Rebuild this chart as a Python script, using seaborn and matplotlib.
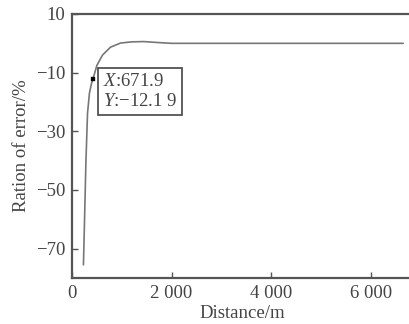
import matplotlib
matplotlib.use("Agg")
import matplotlib.pyplot as plt
import seaborn as sns
import pandas as pd

# data
distance = [230, 245, 261, 280, 312, 350, 390, 420, 500, 613, 774, 975, 1200, 1440, 1700, 2000, 6650]
ratio = [-75.5, -65, -53.6, -40, -23.8, -17, -13.8, -12.19, -7.5, -4.0, -1.3, 0.1, 0.5, 0.6, 0.3, 0.0, 0.0]
marker_x = [420]
marker_y = [-12.19]
xticks = [0, 2000, 4000, 6000]
xtick_labels = ["0", "2 000", "4 000", "6 000"]
yticks = [10, -10, -30, -50, -70]
ytick_labels = ["10", "\u221210", "\u221230", "\u221250", "\u221270"]
annot_text = "$\\mathit{X}$:671.9\n$\\mathit{Y}$:\u221212.1 9"

sns.set_style("ticks")
plt.rcParams["font.family"] = ["Liberation Serif", "DejaVu Serif"]
plt.rcParams["mathtext.fontset"] = "custom"
plt.rcParams["mathtext.it"] = "Liberation Serif:italic"
plt.rcParams["mathtext.rm"] = "Liberation Serif"

df = pd.DataFrame({"Distance": distance, "Ratio": ratio})

fig = plt.figure(figsize=(4.09, 3.24), dpi=100)
ax = fig.add_axes([72 / 409, 46 / 324, 1 - 72 / 409 + 0.01, (278 - 14) / 324])

spine_c = "#555555"
text_c = "#444444"
sns.lineplot(data=df, x="Distance", y="Ratio", ax=ax, color="#777777", lw=1.2,
             sort=False, estimator=None)
sns.scatterplot(x=marker_x, y=marker_y, ax=ax, marker="s", s=10, color="black",
                edgecolor="black", zorder=5)

ax.set_xlim(60, 6850)
ax.set_ylim(-80, 10)
ax.set_xticks(xticks)
ax.set_xticklabels(xtick_labels)
ax.set_yticks(yticks)
ax.set_yticklabels(ytick_labels)
ax.tick_params(direction="in", length=4, width=1, colors=spine_c, labelcolor=text_c,
               labelsize=13.5, pad=5)
ax.set_xlabel("Distance/m", fontsize=13.5, color=text_c, labelpad=2)
ax.set_ylabel("Ration of error/%", fontsize=13.5, color=text_c, labelpad=4)

for s in ["left", "bottom", "top"]:
    ax.spines[s].set_color(spine_c)
    ax.spines[s].set_linewidth(1.6)
ax.spines["right"].set_visible(False)

fig.text(140 / 409, 1 - 91.5 / 324, annot_text, ha="center", va="center",
         multialignment="left",
         fontsize=13.5, color=text_c, linespacing=1.25,
         bbox=dict(boxstyle="square,pad=0.25", fc="white", ec="#444444", lw=1.2),
         transform=fig.transFigure)

fig.savefig("out.png", dpi=100)
